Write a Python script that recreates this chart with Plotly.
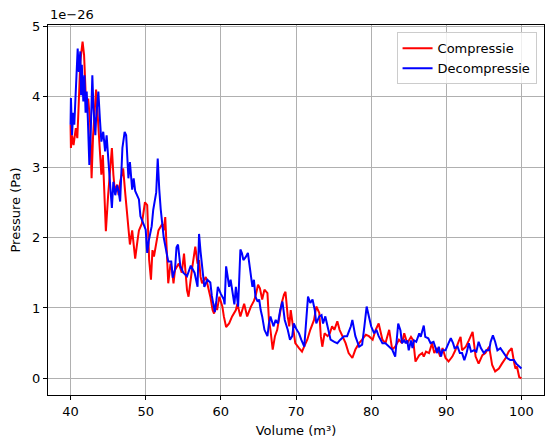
import plotly.graph_objects as go

# Volume (m³) and pressure (in units of 1e-26 Pa)
comp_volume = [
    40.0, 40.05, 40.2, 40.4, 40.7, 40.9, 41.1, 41.3, 41.6, 41.8, 42.0, 42.1, 42.35, 42.6, 42.8,
    43.0, 43.4, 43.6, 43.8, 44.1, 44.3, 44.5, 44.7, 45.0, 45.3, 45.5, 45.7, 45.9, 46.2, 46.4,
    46.6, 47.0, 47.3, 47.5, 47.7, 47.9, 48.2, 48.4, 48.6, 48.9, 49.1, 49.5, 49.9, 50.2, 50.46,
    50.7, 50.9, 51.1, 51.3, 51.7, 52.2, 52.4, 52.6, 52.8, 53.0, 53.3, 53.5, 53.7, 53.9, 54.4,
    54.8, 55.1, 55.3, 55.5, 55.7, 55.9, 56.2, 56.6, 56.9, 57.1, 57.3, 57.5, 58.0, 58.4, 58.6,
    58.9, 59.1, 59.3, 59.5, 59.8, 60.2, 60.4, 60.7, 61.1, 61.5, 62.0, 62.2, 62.6, 63.1, 63.5,
    64.0, 64.4, 64.6, 64.95, 65.2, 65.5, 65.8, 66.2, 66.4, 66.6, 66.9, 67.2, 67.5, 67.8, 68.1,
    68.4, 68.6, 68.9, 69.1, 69.3, 69.6, 69.9, 70.4, 70.8, 71.2, 71.5, 71.9, 72.4, 72.7, 73.1,
    73.3, 73.5, 73.8, 74.2, 74.5, 74.8, 75.1, 75.5, 75.8, 76.2, 76.6, 77.0, 77.5, 77.9, 78.4,
    78.8, 79.3, 79.7, 80.2, 80.6, 81.0, 81.5, 81.9, 82.4, 82.8, 83.2, 83.7, 84.1, 84.4, 84.8,
    85.3, 85.6, 85.7, 85.9, 86.4, 86.8, 87.0, 87.3, 87.7, 88.1, 88.4, 88.8, 89.2, 89.5, 89.9,
    90.3, 90.8, 91.2, 91.7, 91.9, 92.1, 92.6, 93.0, 93.5, 93.9, 94.3, 94.8, 95.2, 95.7, 96.1,
    96.5, 97.0, 97.4, 97.9, 98.3, 98.7, 99.0, 99.2, 99.4, 99.7, 100.0,
]
comp_pressure = [
    3.6, 3.27, 3.45, 3.31, 3.55, 3.41, 3.93, 4.5, 4.78, 4.59, 4.07, 3.83, 3.97, 3.64, 2.84,
    3.45, 4.1, 3.78, 3.31, 2.89, 3.17, 2.51, 2.09, 2.6, 3.08, 3.27, 2.89, 2.65, 2.75, 2.6,
    2.79, 2.98, 2.6, 2.37, 2.13, 1.9, 2.1, 1.85, 1.7, 1.95, 2.1, 2.2, 2.5, 2.46, 1.68,
    1.4, 1.82, 1.73, 1.87, 2.1, 2.19, 2.1, 2.29, 1.82, 1.35, 1.63, 1.54, 1.35, 1.54, 1.63,
    1.5, 1.77, 1.44, 1.25, 1.16, 1.35, 1.58, 1.87, 1.63, 1.68, 1.44, 1.35, 1.44, 1.25, 1.16,
    0.97, 0.92, 1.06, 0.97, 1.16, 1.02, 0.88, 0.73, 0.78, 0.88, 0.97, 1.06, 0.88, 1.06, 0.88,
    1.02, 1.1, 1.16, 1.33, 1.28, 1.12, 1.26, 1.21, 0.83, 0.69, 0.41, 0.6, 0.69, 0.88, 1.07,
    1.19, 1.23, 0.88, 0.74, 0.97, 0.69, 0.5, 0.43, 0.38, 0.48, 0.55, 0.69, 0.83, 1.02, 0.93,
    0.6, 0.45, 0.64, 0.6, 0.64, 0.74, 0.69, 0.81, 0.69, 0.6, 0.5, 0.36, 0.29, 0.41, 0.5,
    0.55, 0.62, 0.6, 0.55, 0.69, 0.78, 0.55, 0.5, 0.69, 0.41, 0.45, 0.55, 0.5, 0.64, 0.5,
    0.59, 0.54, 0.4, 0.24, 0.33, 0.36, 0.31, 0.38, 0.36, 0.5, 0.36, 0.43, 0.31, 0.43, 0.29,
    0.24, 0.31, 0.4, 0.54, 0.59, 0.4, 0.45, 0.54, 0.66, 0.31, 0.21, 0.33, 0.36, 0.45, 0.19,
    0.1, 0.14, 0.21, 0.29, 0.38, 0.43, 0.24, 0.14, 0.17, 0.02, 0.0,
]

decomp_volume = [
    40.0, 40.05, 40.2, 40.35, 40.5, 40.8, 40.95, 41.1, 41.3, 41.4, 41.5, 41.7, 41.85, 42.0, 42.15,
    42.3, 42.5, 42.7, 42.9, 43.05, 43.2, 43.3, 43.4, 43.7, 43.9, 44.1, 44.35, 44.6, 44.8, 45.0,
    45.3, 45.5, 45.7, 45.95, 46.2, 46.4, 46.6, 46.9, 47.2, 47.4, 47.5, 47.7, 47.9, 48.2, 48.4,
    48.6, 49.1, 49.3, 49.5, 50.0, 50.2, 50.4, 50.8, 51.0, 51.4, 51.6, 51.8, 52.0, 52.4, 52.7,
    53.0, 53.4, 53.6, 53.9, 54.1, 54.3, 54.6, 55.0, 55.5, 56.0, 56.5, 56.9, 57.1, 57.3, 57.6,
    57.8, 58.2, 58.6, 58.8, 59.2, 59.4, 59.6, 60.0, 60.4, 60.5, 60.7, 60.9, 61.1, 61.3, 61.6,
    61.8, 62.0, 62.3, 62.6, 62.8, 63.0, 63.3, 63.6, 63.8, 64.0, 64.2, 64.4, 64.6, 64.9, 65.1,
    65.3, 65.5, 65.8, 66.0, 66.2, 66.4, 66.6, 67.0, 67.3, 67.6, 67.9, 68.2, 68.5, 68.9, 69.2,
    69.5, 69.7, 70.1, 70.4, 70.7, 71.1, 71.4, 71.6, 71.9, 72.2, 72.5, 72.7, 73.1, 73.4, 73.6,
    73.9, 74.3, 74.6, 75.1, 75.5, 75.9, 76.4, 76.8, 77.3, 77.5, 77.9, 78.4, 78.8, 79.1, 79.4,
    79.7, 80.0, 80.4, 80.7, 81.0, 81.5, 81.9, 82.4, 82.8, 83.2, 83.6, 83.9, 84.1, 84.4, 84.6,
    84.8, 85.0, 85.3, 85.5, 85.7, 86.0, 86.4, 86.6, 87.0, 87.2, 87.6, 87.9, 88.3, 88.8, 89.0,
    89.3, 89.5, 89.9, 90.3, 90.6, 90.9, 91.1, 91.5, 91.8, 92.1, 92.4, 92.7, 93.0, 93.3, 93.7,
    94.0, 94.3, 94.6, 95.0, 95.3, 95.7, 95.9, 96.2, 96.5, 96.8, 97.2, 97.7, 98.1, 98.5, 99.0,
    99.3, 99.7, 100.0,
]
decomp_pressure = [
    3.6, 3.98, 3.45, 3.77, 3.6, 4.21, 4.68, 4.35, 4.64, 4.02, 4.45, 3.93, 4.3, 3.77, 4.07,
    3.69, 3.03, 3.55, 4.3, 3.83, 3.6, 3.45, 3.69, 4.07, 3.69, 3.36, 3.5, 3.22, 3.45, 3.08,
    2.7, 2.42, 2.79, 2.6, 2.74, 2.65, 2.51, 3.27, 3.5, 3.45, 3.17, 2.84, 3.07, 2.68, 2.84,
    2.66, 2.54, 2.3, 2.25, 2.11, 1.78, 1.95, 2.16, 2.39, 2.64, 3.12, 2.69, 2.4, 2.0, 1.8,
    1.66, 1.66, 1.43, 1.55, 1.86, 1.9, 1.6, 1.5, 1.45, 1.6, 1.5, 1.3, 2.05, 1.8, 1.55,
    1.3, 1.4, 1.36, 1.17, 0.94, 1.1, 1.3, 1.2, 1.12, 1.05, 1.59, 1.45, 1.3, 1.4, 1.2,
    1.05, 1.3, 1.02, 1.83, 1.78, 1.68, 1.72, 1.78, 1.6, 1.43, 1.3, 1.4, 1.16, 1.09, 1.12,
    0.97, 0.88, 0.69, 0.64, 0.6, 0.78, 0.88, 0.74, 0.83, 0.78, 0.97, 1.09, 0.83, 0.69, 0.55,
    0.6, 0.78, 0.69, 0.64, 0.55, 0.45, 0.88, 1.16, 1.07, 1.12, 0.97, 0.78, 0.88, 0.9, 0.78,
    0.88, 0.69, 0.55, 0.52, 0.5, 0.55, 0.6, 0.6, 0.74, 0.83, 0.6, 0.45, 0.48, 0.74, 1.02,
    0.88, 0.74, 0.64, 0.69, 0.6, 0.5, 0.5, 0.45, 0.41, 0.31, 0.78, 0.68, 0.5, 0.54, 0.5,
    0.54, 0.4, 0.54, 0.43, 0.54, 0.52, 0.64, 0.59, 0.75, 0.59, 0.57, 0.5, 0.52, 0.36, 0.45,
    0.31, 0.4, 0.4, 0.5, 0.57, 0.5, 0.43, 0.45, 0.36, 0.36, 0.26, 0.36, 0.5, 0.38, 0.4,
    0.38, 0.52, 0.43, 0.36, 0.4, 0.4, 0.52, 0.61, 0.52, 0.4, 0.43, 0.36, 0.29, 0.26, 0.26,
    0.21, 0.17, 0.14,
]

FONT = "DejaVu Sans"

fig = go.Figure()
fig.add_trace(go.Scatter(
    x=comp_volume, y=comp_pressure, mode="lines", name="Compressie",
    line=dict(color="red", width=2),
))
fig.add_trace(go.Scatter(
    x=decomp_volume, y=decomp_pressure, mode="lines", name="Decompressie",
    line=dict(color="blue", width=2),
))

axis_style = dict(
    showgrid=True, gridcolor="#b0b0b0", gridwidth=0.8,
    showline=True, linecolor="black", linewidth=1, mirror=True,
    ticks="outside", ticklen=4, tickwidth=1, tickcolor="black",
    zeroline=False, tickfont=dict(family=FONT, size=13, color="black"),
)

fig.update_xaxes(
    range=[37, 103], tickvals=[40, 50, 60, 70, 80, 90, 100],
    title=dict(text="Volume (m³)", font=dict(family=FONT, size=13, color="black"), standoff=8),
    **axis_style,
)
fig.update_yaxes(
    range=[-0.235, 5.015], tickvals=[0, 1, 2, 3, 4, 5],
    title=dict(text="Pressure (Pa)", font=dict(family=FONT, size=13, color="black"), standoff=12),
    **axis_style,
)

# the page body adds 8px around the figure, so margins are trimmed by 8
fig.update_layout(
    plot_bgcolor="white",
    paper_bgcolor="white",
    margin=dict(l=40, r=2, t=17, b=45),
    font=dict(family=FONT, size=13, color="black"),
    showlegend=True,
    legend=dict(
        x=0.985, y=0.98, xanchor="right", yanchor="top",
        bgcolor="rgba(255,255,255,0.8)", bordercolor="#cccccc", borderwidth=1,
        tracegroupgap=0, font=dict(family=FONT, size=13, color="black"),
    ),
    annotations=[dict(
        text="1e\u221226", x=0, y=1, xref="paper", yref="paper",
        xanchor="left", yanchor="bottom", showarrow=False, yshift=1,
        font=dict(family=FONT, size=13, color="black"),
    )],
)

fig.write_html("out.html")
